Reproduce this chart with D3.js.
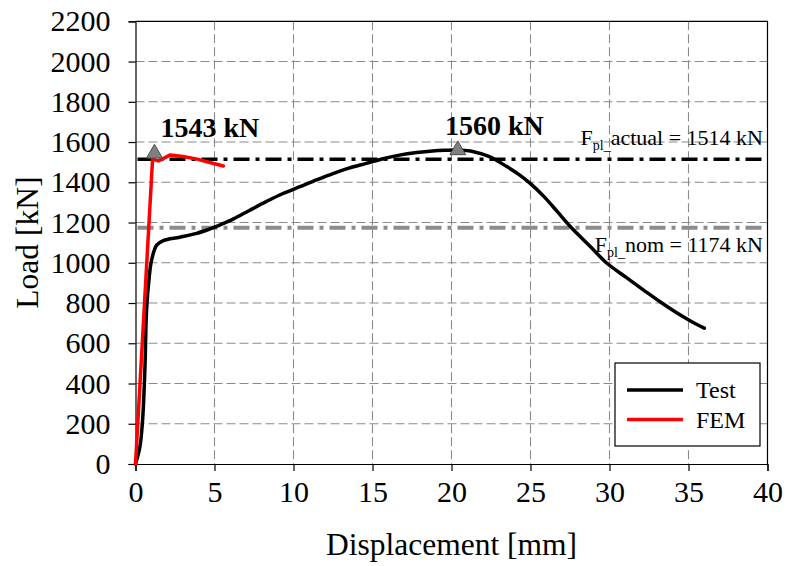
<!DOCTYPE html>
<html>
<head>
<meta charset="utf-8">
<script src="https://cdn.jsdelivr.net/npm/d3@7"></script>
<style>
  html, body { margin: 0; padding: 0; background: #fff; }
  svg { display: block; }
  svg text { font-family: "Liberation Serif", "Times New Roman", serif; }
</style>
</head>
<body>
<svg id="chart" width="788" height="566"></svg>
<script>
// Load–displacement response: test record and FE model
const testDisp = [0, 0.28, 0.45, 0.6, 0.7, 0.87, 1.02, 1.34, 1.76, 2.8, 3.87, 4.7, 5.4, 6.2, 7.2, 8.3, 9.3, 10.4, 11.5, 12.5, 13.5, 14.6, 15.6, 16.7, 17.8, 18.8, 19.6, 20.4, 21.4, 22.4, 23.5, 24.3, 25.0, 25.9, 26.7, 27.7, 28.8, 29.8, 31.1, 32.2, 33.2, 34.2, 35.1, 36.0];
const testLoad = [0, 86, 219, 483, 765, 930, 1014, 1088, 1110, 1127, 1146, 1168, 1190, 1218, 1260, 1305, 1343, 1378, 1413, 1443, 1470, 1494, 1516, 1535, 1548, 1556, 1559, 1560, 1552, 1527, 1478, 1437, 1393, 1325, 1254, 1165, 1080, 1000, 925, 862, 806, 754, 712, 675];

const femDisp = [0, 1.08, 1.45, 2.2, 3.0, 3.9, 4.7, 5.56];
const femLoad = [0, 1515, 1506, 1536, 1528, 1515, 1498, 1481];

// Peak markers
const peakDisp = [1.2, 20.4];
const peakLoad = [1543, 1560];
const peakText = ["1543 kN", "1560 kN"];

// Plastic resistance reference levels
const refLoad = [1514, 1174];
const refName = ["actual", "nom"];

const xTicks = [0, 5, 10, 15, 20, 25, 30, 35, 40];
const yTicks = [0, 200, 400, 600, 800, 1000, 1200, 1400, 1600, 1800, 2000, 2200];

const seriesNames = ["Test", "FEM"];
const seriesColors = ["#000000", "#ff0000"];

const serif = '"Liberation Serif", "Times New Roman", serif';
const svg = d3.select("#chart");
const m = { left: 135.5, right: 767.5, top: 21.3, bottom: 464 };

const x = d3.scaleLinear().domain([0, 40]).range([m.left, m.right]);
const y = d3.scaleLinear().domain([0, 2200]).range([m.bottom, m.top]);

// Grid
const grid = svg.append("g").attr("stroke", "#8a8a8a").attr("stroke-width", 1.1)
  .attr("stroke-dasharray", "9,4").attr("fill", "none");
grid.selectAll("line.v").data(xTicks.filter(d => d > 0 && d < 40)).enter().append("line")
  .attr("x1", d => x(d)).attr("x2", d => x(d)).attr("y1", m.top).attr("y2", m.bottom);
grid.selectAll("line.h").data(yTicks.filter(d => d > 0 && d < 2200)).enter().append("line")
  .attr("y1", d => y(d)).attr("y2", d => y(d)).attr("x1", m.left).attr("x2", m.right);

// Frame (top and right)
svg.append("path")
  .attr("d", `M${m.left},${m.top}H${m.right}V${m.bottom}`)
  .attr("fill", "none").attr("stroke", "#000").attr("stroke-width", 1.2);

// Axes
const xAxis = d3.axisBottom(x).tickValues(xTicks).tickSize(7).tickPadding(10).tickFormat(d3.format("d"));
const yAxis = d3.axisLeft(y).tickValues(yTicks).tickSize(7).tickPadding(18).tickFormat(d3.format("d"));

const gx = svg.append("g").attr("transform", `translate(0,${m.bottom})`).call(xAxis);
const gy = svg.append("g").attr("transform", `translate(${m.left},0)`).call(yAxis);
[gx, gy].forEach(g => {
  g.attr("font-family", null).attr("font-size", null);
  g.select(".domain").attr("stroke", "#000").attr("stroke-width", 1.2);
  g.selectAll(".tick line").attr("stroke", "#000").attr("stroke-width", 1.2);
  g.selectAll(".tick text").style("font-family", serif)
    .style("font-size", "30px").attr("fill", "#000");
});
gx.selectAll(".tick text").attr("dy", "0.71em");

// Axis titles
svg.append("text").attr("x", (m.left + m.right) / 2).attr("y", 555)
  .attr("text-anchor", "middle").style("font-size", "31.5px").text("Displacement [mm]");
svg.append("text").attr("transform", `translate(38,${(m.top + m.bottom) / 2}) rotate(-90)`)
  .attr("text-anchor", "middle").style("font-size", "31.5px").text("Load [kN]");

// Reference lines (dash-dot)
const refColors = ["#000000", "#8c8c8c"];
refLoad.forEach((v, i) => {
  svg.append("line")
    .attr("x1", m.left + 2).attr("x2", m.right - 4)
    .attr("y1", y(v)).attr("y2", y(v))
    .attr("stroke", refColors[i]).attr("stroke-width", i === 0 ? 3.5 : 4)
    .attr("stroke-dasharray", "16,6,4,6");
});

// Curves
const lineTest = d3.line().x((d, i) => x(testDisp[i])).y((d, i) => y(testLoad[i])).curve(d3.curveCatmullRom.alpha(0.5));
const lineFem = d3.line().x((d, i) => x(femDisp[i])).y((d, i) => y(femLoad[i])).curve(d3.curveLinear);

svg.append("path").datum(testDisp).attr("d", lineTest)
  .attr("fill", "none").attr("stroke", seriesColors[0]).attr("stroke-width", 3.5)
  .attr("stroke-linejoin", "round").attr("stroke-linecap", "round");
svg.append("path").datum(femDisp).attr("d", lineFem)
  .attr("fill", "none").attr("stroke", seriesColors[1]).attr("stroke-width", 3.5)
  .attr("stroke-linejoin", "round").attr("stroke-linecap", "round");

// Peak markers and labels
const tri = d3.symbol().type(d3.symbolTriangle).size(110);
peakDisp.forEach((d, i) => {
  svg.append("path").attr("d", tri())
    .attr("transform", `translate(${x(d)},${y(peakLoad[i])})`)
    .attr("fill", "#808080").attr("stroke", "#4d4d4d").attr("stroke-width", 1);
});
svg.append("text").attr("x", 160.5).attr("y", 137).style("font-size", "28px")
  .attr("font-weight", "bold").text(peakText[0]);
svg.append("text").attr("x", 445).attr("y", 135).style("font-size", "28px")
  .attr("font-weight", "bold").text(peakText[1]);

// Reference labels: F_pl_actual, F_pl_nom
const refLabelY = [145, 252];
refLoad.forEach((v, i) => {
  const t = svg.append("text").attr("x", 763).attr("y", refLabelY[i])
    .attr("text-anchor", "end").style("font-size", "22px").attr("fill", "#000");
  t.append("tspan").text("F");
  t.append("tspan").style("font-size", "14px").attr("dy", 5).text("pl_");
  t.append("tspan").attr("dy", -5).text(`${refName[i]} = ${v} kN`);
});

// Legend
const lg = svg.append("g");
lg.append("rect").attr("x", 615).attr("y", 363).attr("width", 145).attr("height", 83)
  .attr("fill", "#fff").attr("stroke", "#000").attr("stroke-width", 1.2);
seriesNames.forEach((n, i) => {
  const yy = 390 + i * 29.5;
  lg.append("line").attr("x1", 627).attr("x2", 683).attr("y1", yy).attr("y2", yy)
    .attr("stroke", seriesColors[i]).attr("stroke-width", 3.5);
  lg.append("text").attr("x", 696).attr("y", yy + 8).style("font-size", "24px").text(n);
});
</script>
</body>
</html>
